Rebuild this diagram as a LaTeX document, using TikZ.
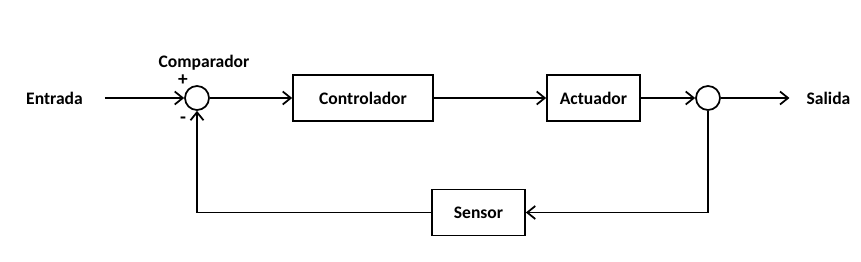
\documentclass[tikz,border=0pt]{standalone}
\usepackage{fontspec}
\setmainfont{Carlito}
\usetikzlibrary{arrows.meta, positioning}
\tikzstyle{block} = [rectangle, draw=black, line width=1pt, minimum height=0.92cm, text centered, font=\bfseries]
\tikzstyle{sumpoint} = [circle, draw=black, line width=1pt, minimum size=0.48cm, inner sep=0pt]
\tikzstyle{txt} = [font=\bfseries]
\tikzstyle{arrow} = [line width=1pt,->,>={Straight Barb[length=0.16cm, width=0.26cm]}]

\begin{document}
\begin{tikzpicture}[node distance=2.5cm, every node/.append style={font=\fontsize{11pt}{13pt}\selectfont\bfseries}]
\useasboundingbox (0,0) rectangle (17.22,5.22);

\node (entrada) [txt] at (1.09,3.26) {Entrada};

\node (comp) [sumpoint, right of=entrada, xshift=0.35cm] {};
\node (comptxt) [txt, above of=comp, yshift=-1.8cm, xshift=0.14cm] {Comparador};
\node (plus) [above of=comp, yshift=-2.15cm, xshift=-0.28cm, inner sep=0pt] {+};
\node (minus) [below of=comp, yshift=2.05cm, xshift=-0.28cm, inner sep=0pt] {-};

\node (ctrl) [block, minimum width=2.8cm, right of=comp, xshift=0.82cm] {Controlador};

\node (act) [block, minimum width=1.86cm, right of=ctrl, xshift=2.11cm] {Actuador};

\node (sum2) [sumpoint, right of=act, xshift=-0.21cm] {};

\node (salida) [txt, right of=sum2, xshift=-0.09cm] {Salida};

\node (sensor) [block, minimum width=1.86cm, below of=ctrl, xshift=2.31cm, yshift=0.21cm] {Sensor};

\draw[arrow] ([xshift=0.32cm]entrada.east) -- (comp);
\draw[arrow] (comp) -- (ctrl);
\draw[arrow] (ctrl) -- (act);
\draw[arrow] (act) -- (sum2);
\draw[arrow] (sum2) -- ([xshift=-0.22cm]salida.west);

\draw[arrow] (sum2.south) |- (sensor.east);
\draw[arrow] (sensor.west) -| (comp.south);

\end{tikzpicture}
\end{document}
